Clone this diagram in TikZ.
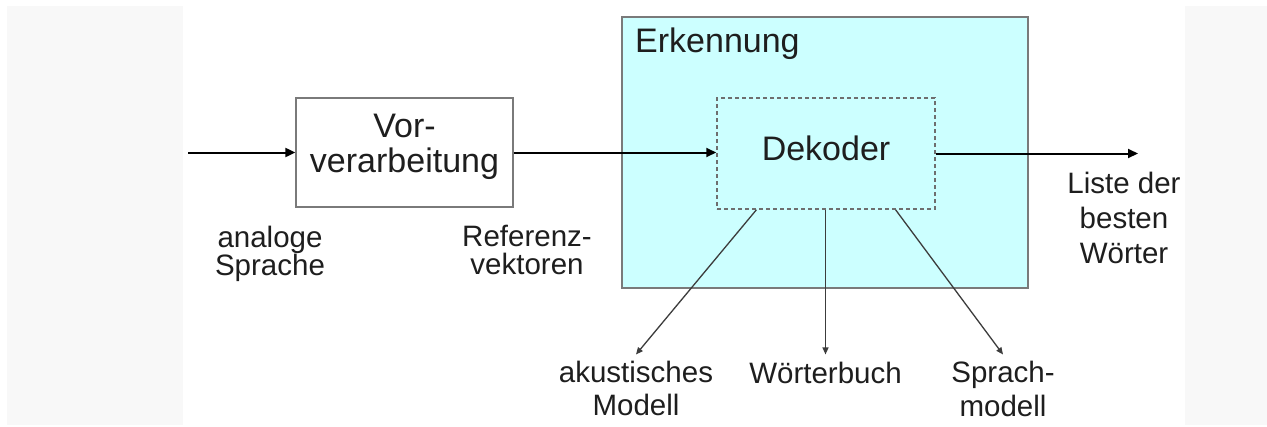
\documentclass[tikz,border=0pt]{standalone}
\usepackage{fontspec}
\setmainfont{Liberation Sans}
\usetikzlibrary{arrows.meta,calc}
\definecolor{panelgray}{HTML}{F8F8F8}
\definecolor{cyanfill}{HTML}{CCFFFF}
\definecolor{edgegray}{HTML}{7A7A7A}
\definecolor{dashgray}{HTML}{6E6E6E}
\definecolor{thingray}{HTML}{3C3C3C}
\definecolor{txt}{HTML}{1E1E1E}
\begin{document}
\begin{tikzpicture}[x=1pt,y=-1pt,
  erkbox/.style={draw=edgegray,line width=1.5pt,fill=cyanfill,minimum width=406pt,minimum height=271pt,inner sep=0pt},
  prebox/.style={draw=edgegray,line width=1.3pt,fill=white,minimum width=217pt,minimum height=109pt,inner sep=0pt},
  dekbox/.style={draw=dashgray,line width=1.5pt,dash pattern=on 4pt off 3pt,minimum width=218pt,minimum height=111pt,inner sep=0pt},
  lbl/.style={inner sep=0pt,align=center,text=txt,font=\fontsize{29.5}{28}\selectfont},
  bigtxt/.style={inner sep=0pt,align=center,text=txt,font=\fontsize{34}{35}\selectfont},
  mainarrow/.style={line width=2pt,draw=black,-{Triangle[length=10pt,width=9pt]}},
  thinarrow/.style={line width=1.3pt,draw=thingray,-{Triangle[length=7pt,width=6pt]}}
]
\useasboundingbox (0,0) rectangle (1267,426);
\fill[white] (0,0) rectangle (1267,426);
\fill[panelgray] (7,6) rectangle (183,425);
\fill[panelgray] (1185,6) rectangle (1267,425);

% boxes
\node[erkbox] (erk) at (825,152.5) {};
\node[prebox] (pre) at (404.5,152.5) {};
\node[dekbox] (dek) at (826,153.5) {};

% box texts
\node[bigtxt] (pretext) at (404.5,146.4) {Vor-\\verarbeitung};
\node[bigtxt] (dektext) at (826,148) {Dekoder};
\node[bigtxt,anchor=base west] (erktext) at (635,52) {Erkennung};

% labels
\node[lbl] (an) at (270,253.5) {analoge\\Sprache};
\node[lbl] (ref) at (527,250.4) {Referenz-\\vektoren};
\node[lbl,font=\fontsize{29.5}{35}\selectfont] (liste) at (1124,217.5) {Liste der\\besten\\Wörter};
\node[lbl,font=\fontsize{29.5}{33}\selectfont] (aku) at (636,388) {akustisches\\Modell};
\node[lbl,anchor=base] (wb) at (825.5,383) {Wörterbuch};
\node[lbl,font=\fontsize{29.5}{34}\selectfont] (spr) at (1003,388.5) {Sprach-\\modell};

% connectors
\coordinate (in) at (188,152.5);
\coordinate (out) at (1138,153.5);
\draw[mainarrow] (in) -- (pre.west);
\draw[mainarrow] (pre.east) -- (pre.east -| dek.west);
\draw[mainarrow] (dek.east) -- (out);
\draw[thinarrow] ($(dek.south west)!0.183!(dek.south east)$) -- ([yshift=6pt]aku.north);
\draw[thinarrow] (dek.south -| wb.north) -- ([yshift=7pt]wb.north);
\draw[thinarrow] ($(dek.south west)!0.817!(dek.south east)$) -- ([yshift=6pt]spr.north);
\end{tikzpicture}
\end{document}
